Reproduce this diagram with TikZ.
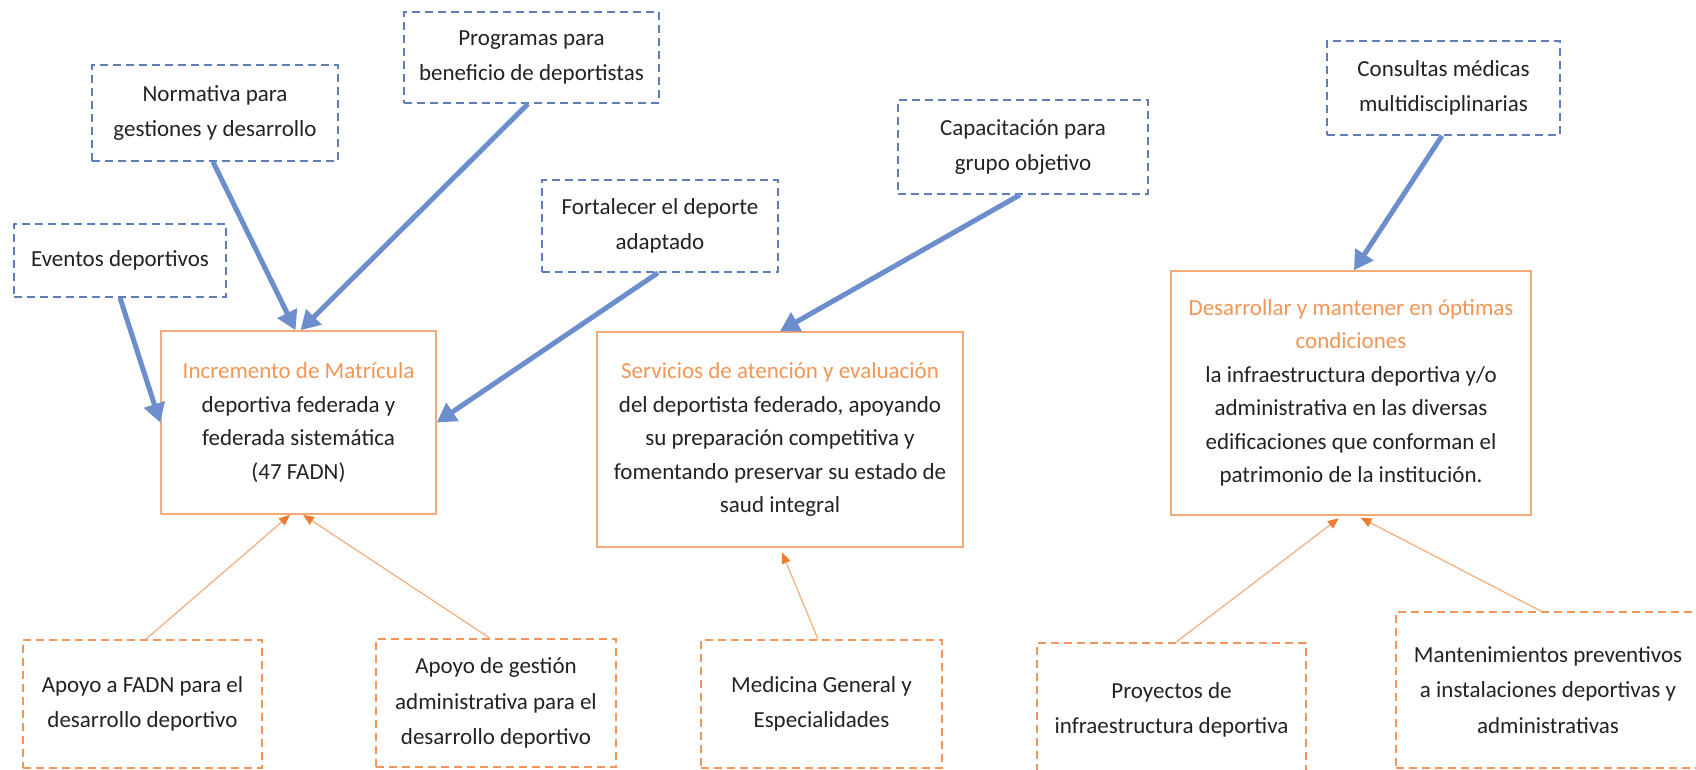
\documentclass[tikz,border=0pt]{standalone}
\usepackage{fontspec}
\setmainfont{Carlito}
\usetikzlibrary{arrows.meta}
\definecolor{bluearrow}{RGB}{108,142,205}
\definecolor{blueborder}{RGB}{95,125,185}
\definecolor{orangetext}{RGB}{242,150,85}
\definecolor{orangeborder}{RGB}{244,170,120}
\definecolor{orangedash}{RGB}{240,150,90}
\definecolor{orangeline}{RGB}{244,177,131}
\definecolor{orangetip}{RGB}{237,125,49}
\definecolor{textgray}{RGB}{35,35,35}
\begin{document}
\begin{tikzpicture}[x=1pt,y=-1pt,
  every node/.style={font=\fontsize{23}{35.5}\selectfont, text=textgray, align=center, inner sep=0pt},
  bigtext/.style={font=\fontsize{23}{33.5}\selectfont},
  bluebox/.style={draw=blueborder, line width=1.6pt, dash pattern=on 8pt off 5pt},
  orangebox/.style={draw=orangeborder, line width=1.6pt, bigtext},
  orangedbox/.style={draw=orangedash, line width=1.6pt, dash pattern=on 8pt off 5pt},
  bluearr/.style={draw=bluearrow, line width=5pt, -{Triangle[length=19pt,width=21pt]}},
  orangearr/.style={draw=orangeline, line width=1.3pt, -{Triangle[length=11pt,width=9pt,color=orangetip]}}]
\fill[white] (0,0) rectangle (1696,770);
\useasboundingbox (0,0) rectangle (1696,770);

% blue dashed boxes
\node[bluebox, minimum width=255pt, minimum height=91pt] (prog) at (531.5,57.5) {Programas para\\beneficio de deportistas};
\node[bluebox, minimum width=246pt, minimum height=96pt] (norm) at (215,113) {Normativa para\\gestiones y desarrollo};
\node[bluebox, minimum width=212pt, minimum height=73pt] (even) at (120,260.5) {Eventos deportivos};
\node[bluebox, minimum width=236pt, minimum height=92pt] (fort) at (660,226) {Fortalecer el deporte\\adaptado};
\node[bluebox, minimum width=250pt, minimum height=94pt] (capa) at (1023,147) {Capacitación para\\grupo objetivo};
\node[bluebox, minimum width=233pt, minimum height=94pt] (cons) at (1443.5,88) {Consultas médicas\\multidisciplinarias};

% orange solid boxes
\node[orangebox, minimum width=275pt, minimum height=183pt] (incr) at (298.5,422.5)
  {\textcolor{orangetext}{Incremento de Matrícula}\\deportiva federada y\\federada sistemática\\(47 FADN)};
\node[orangebox, minimum width=366pt, minimum height=215pt] (serv) at (780,439.5)
  {\textcolor{orangetext}{Servicios de atención y evaluación}\\del deportista federado, apoyando\\su preparación competitiva y\\fomentando preservar su estado de\\saud integral};
\node[orangebox, minimum width=360pt, minimum height=244pt] (desa) at (1351,393)
  {\textcolor{orangetext}{Desarrollar y mantener en óptimas}\\\textcolor{orangetext}{condiciones}\\la infraestructura deportiva y/o\\administrativa en las diversas\\edificaciones que conforman el\\patrimonio de la institución.};

% orange dashed boxes
\node[orangedbox, minimum width=239pt, minimum height=128pt] (apfa) at (142.5,704) {Apoyo a FADN para el\\desarrollo deportivo};
\node[orangedbox, minimum width=240pt, minimum height=128pt] (apge) at (496,703) {Apoyo de gestión\\administrativa para el\\desarrollo deportivo};
\node[orangedbox, minimum width=241pt, minimum height=128pt] (medi) at (821.5,704) {Medicina General y\\Especialidades};
\node[orangedbox, minimum width=269pt, minimum height=134pt] (proy) at (1171.5,710) {Proyectos de\\infraestructura deportiva};
\node[orangedbox, minimum width=304pt, minimum height=156pt] (mant) at (1548,690) {Mantenimientos preventivos\\a instalaciones deportivas y\\administrativas};

% blue arrows
\draw[bluearr] (even.south) -- (incr.west);
\draw[bluearr] ([xshift=-2pt]norm.south) -- ([xshift=-3pt]incr.north);
\draw[bluearr] ([xshift=-3.5pt]prog.south) -- ([xshift=2pt]incr.north);
\draw[bluearr] ([xshift=-2pt]fort.south) -- (incr.east);
\draw[bluearr] ([xshift=-3pt]capa.south) -- (serv.north);
\draw[bluearr] ([xshift=-1.5pt]cons.south) -- ([xshift=3pt]desa.north);

% orange arrows
\draw[orangearr] ([xshift=3.5pt]apfa.north) -- ([xshift=-8.5pt]incr.south);
\draw[orangearr] ([xshift=-6pt]apge.north) -- ([xshift=4.5pt]incr.south);
\draw[orangearr, shorten >=5pt] ([xshift=-3.5pt]medi.north) -- (serv.south);
\draw[orangearr, shorten >=4pt] ([xshift=4.5pt]proy.north) -- ([xshift=-9pt]desa.south);
\draw[orangearr, shorten >=4pt] ([xshift=-7pt]mant.north) -- ([xshift=6pt]desa.south);
\end{tikzpicture}
\end{document}
